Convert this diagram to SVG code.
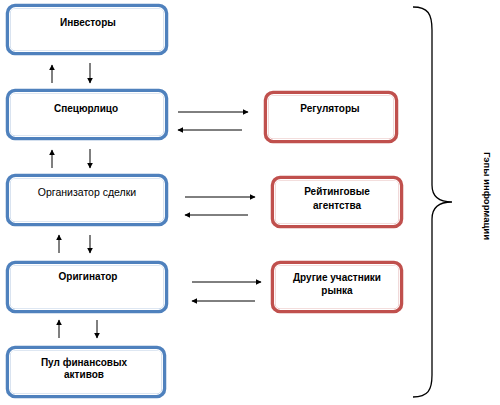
<svg xmlns="http://www.w3.org/2000/svg" width="500" height="405" viewBox="0 0 500 405">
<style>
.bo{fill:#fff;stroke:#4F81BD;stroke-width:4.5}
.ro{fill:#fff;stroke:#C0504D;stroke-width:4.5}
.in{fill:none;stroke:#fff;stroke-width:1.1}
.t{font-family:"Liberation Sans",Arial,sans-serif;font-size:10px;font-weight:bold;fill:#000;text-anchor:middle}
.tn{font-weight:normal;font-size:10.5px}
.a{stroke:#000;stroke-width:1;fill:none;marker-end:url(#ah)}
</style>
<defs>
<marker id="ah" viewBox="0 0 10 10" refX="9" refY="5" markerWidth="6" markerHeight="6" orient="auto" markerUnits="userSpaceOnUse">
<path d="M0,0 L10,5 L0,10 z" fill="#000"/>
</marker>
</defs>
<rect width="500" height="405" fill="#fff"/>
<g id="investory">
<rect class="bo" x="8" y="6" width="158" height="47" rx="7"/>
<rect class="in" x="9.6" y="7.6" width="154.8" height="43.8" rx="6"/>
<text class="t" x="88" y="26">Инвесторы</text>
</g>
<g id="specurlico">
<rect class="bo" x="8" y="91" width="158" height="47" rx="7"/>
<rect class="in" x="9.6" y="92.6" width="154.8" height="43.8" rx="6"/>
<text class="t" x="86" y="112">Спецюрлицо</text>
</g>
<g id="organizator">
<rect class="bo" x="8" y="176" width="158" height="48" rx="7"/>
<rect class="in" x="9.6" y="177.6" width="154.8" height="44.8" rx="6"/>
<text class="t tn" x="87" y="196">Организатор сделки</text>
</g>
<g id="originator">
<rect class="bo" x="8" y="263" width="158" height="48" rx="7"/>
<rect class="in" x="9.6" y="264.6" width="154.8" height="44.8" rx="6"/>
<text class="t" x="88" y="280">Оригинатор</text>
</g>
<g id="pul">
<rect class="bo" x="8" y="348" width="156" height="48" rx="7"/>
<rect class="in" x="9.6" y="349.6" width="152.8" height="44.8" rx="6"/>
<text class="t" x="84" y="366">Пул финансовых</text>
<text class="t" x="84" y="378">активов</text>
</g>
<g id="regulatory">
<rect class="ro" x="266" y="93" width="130" height="48" rx="7"/>
<rect class="in" x="267.6" y="94.6" width="126.8" height="44.8" rx="6"/>
<text class="t" x="330" y="112">Регуляторы</text>
</g>
<g id="reiting">
<rect class="ro" x="273" y="178" width="128" height="48" rx="7"/>
<rect class="in" x="274.6" y="179.6" width="124.8" height="44.8" rx="6"/>
<text class="t" x="337" y="195">Рейтинговые</text>
<text class="t" x="337" y="209">агентства</text>
</g>
<g id="drugie">
<rect class="ro" x="273" y="263" width="128" height="48" rx="7"/>
<rect class="in" x="274.6" y="264.6" width="124.8" height="44.8" rx="6"/>
<text class="t" x="337" y="281">Другие участники</text>
<text class="t" x="337" y="294">рынка</text>
</g>
<g id="connectors">
<line class="a" x1="52" y1="83" x2="52" y2="65"/>
<line class="a" x1="90" y1="63" x2="90" y2="83"/>
<line class="a" x1="52" y1="168" x2="52" y2="150"/>
<line class="a" x1="90" y1="149" x2="90" y2="168"/>
<line class="a" x1="59" y1="253" x2="59" y2="235"/>
<line class="a" x1="90" y1="235" x2="90" y2="253"/>
<line class="a" x1="59" y1="338" x2="59" y2="320"/>
<line class="a" x1="97" y1="320" x2="97" y2="338"/>
<line class="a" x1="178" y1="112" x2="248" y2="112"/>
<line class="a" x1="242" y1="130" x2="178" y2="130"/>
<line class="a" x1="185" y1="197" x2="255" y2="197"/>
<line class="a" x1="248" y1="215" x2="185" y2="215"/>
<line class="a" x1="192" y1="282" x2="261" y2="282"/>
<line class="a" x1="255" y1="301" x2="192" y2="301"/>
</g>
<g id="brace">
<path d="M413,7 C428,7 432,14 432,30 L432,185 C432,197 440,202 452,202 C440,202 432,207 432,219 L432,375 C432,390 428,397 413,397" fill="none" stroke="#000" stroke-width="1.3"/>
<text class="t" style="font-size:9.5px" transform="translate(484,196) rotate(90)">Гэпы информации</text>
</g>
</svg>
